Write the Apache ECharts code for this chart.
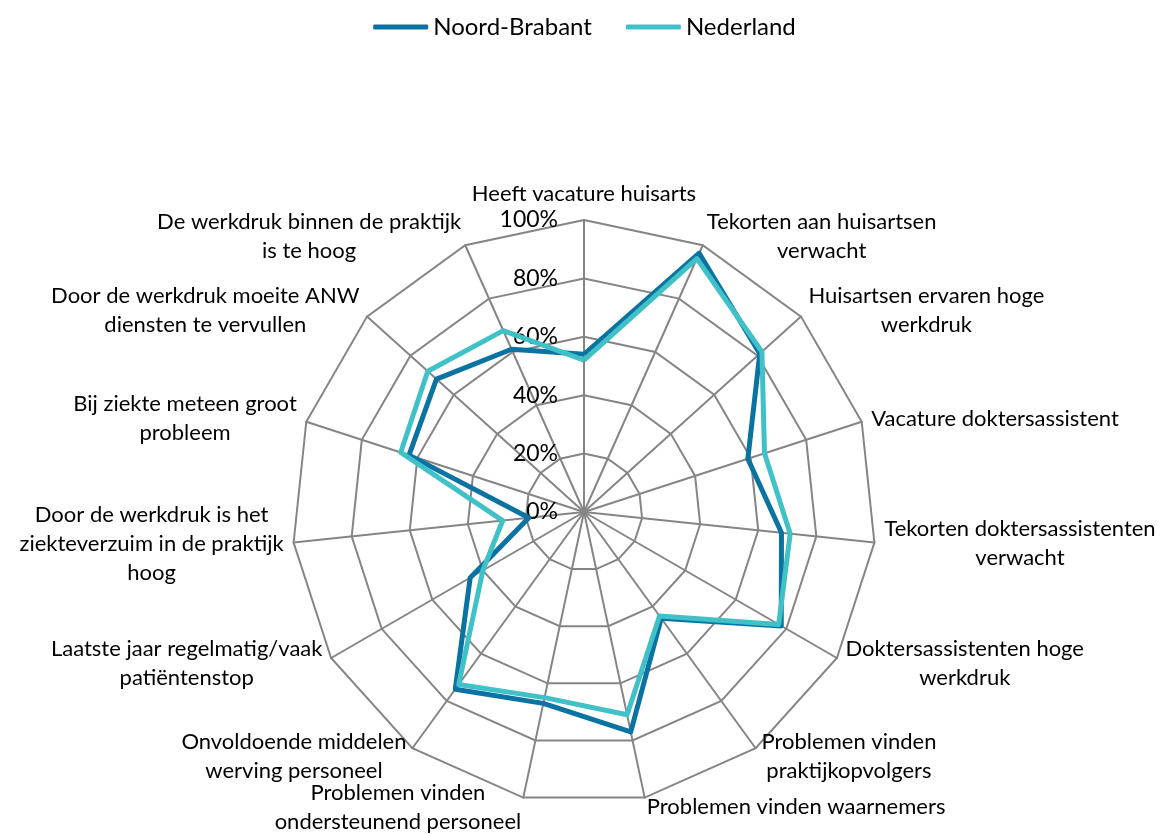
<!DOCTYPE html>
<html>
<head>
<meta charset="utf-8">
<script src="https://cdn.jsdelivr.net/npm/echarts@6/dist/echarts.min.js"></script>
<style>
  html, body { margin: 0; padding: 0; background: #fff; }
  #chart { width: 1169px; height: 834px; }
</style>
</head>
<body>
<div id="chart"></div>
<script>
// indicators of the radar (clockwise from the top)
const categories = [
  'Heeft vacature huisarts',
  'Tekorten aan huisartsen\nverwacht',
  'Huisartsen ervaren hoge\nwerkdruk',
  'Vacature doktersassistent',
  'Tekorten doktersassistenten\nverwacht',
  'Doktersassistenten hoge\nwerkdruk',
  'Problemen vinden\npraktijkopvolgers',
  'Problemen vinden waarnemers',
  'Problemen vinden\nondersteunend personeel',
  'Onvoldoende middelen\nwerving personeel',
  'Laatste jaar regelmatig/vaak\npatiëntenstop',
  'Door de werkdruk is het\nziekteverzuim in de praktijk\nhoog',
  'Bij ziekte meteen groot\nprobleem',
  'Door de werkdruk moeite ANW\ndiensten te vervullen',
  'De werkdruk binnen de praktijk\nis te hoog'
]
// percentages
const noordBrabant = [54, 97, 81, 59, 68, 78, 45, 77, 67, 75, 45, 19, 63, 68, 61]
const nederland = [52, 95, 82, 65, 71, 77, 44, 71, 65, 73, 40, 28, 66, 72, 68]
const seriesNames = ['Noord-Brabant', 'Nederland']
const seriesColors = ['#0A73A2', '#40C1C8']
const tickMax = 100

const FONT = 'Lato'
const chart = echarts.init(document.getElementById('chart'))

// echarts lays the radar out counter-clockwise, so keep the first item on top and reverse the rest
const order = [0].concat(categories.map((c, i) => i).slice(1).reverse())
const pick = arr => order.map(i => arr[i])

const indicator = pick(categories).map((name, i) => {
  const item = { name: name, max: tickMax, min: 0 }
  if (i === 0) item.axisLabel = { show: true }//only the top axis gets tick labels
  return item
})

const option = {
  animation: false,
  legend: {
    top: 10,
    left: 'center',
    icon: 'roundRect',
    itemWidth: 55,
    itemHeight: 5,
    itemGap: 34,
    textStyle: { fontFamily: FONT, fontSize: 24, color: '#000' },
    data: seriesNames
  },
  radar: {
    center: [584, 512],
    radius: 292,
    startAngle: 90,
    splitNumber: 5,
    shape: 'polygon',
    indicator: indicator,
    axisNameGap: 10,
    axisName: {
      color: '#000',
      fontFamily: FONT,
      fontSize: 22,
      lineHeight: 29,
      formatter: name => name.split('\n').map(s => '{c|' + s + '}').join('\n'),
      rich: {
        c: { align: 'center', fontFamily: FONT, fontSize: 22, lineHeight: 29, color: '#000' }
      }
    },
    axisLine: { lineStyle: { color: '#858585', width: 2 } },
    splitLine: { lineStyle: { color: '#858585', width: 2 } },
    splitArea: { show: false },
    axisTick: { show: false },
    axisLabel: {
      show: false,
      formatter: v => v + '%',
      fontFamily: FONT,
      fontSize: 23,
      color: '#000',
      margin: 26
    }
  },
  series: [{
    type: 'radar',
    symbol: 'none',
    data: [
      { name: seriesNames[0], value: pick(noordBrabant), lineStyle: { width: 5, color: seriesColors[0] }, itemStyle: { color: seriesColors[0] } },
      { name: seriesNames[1], value: pick(nederland), lineStyle: { width: 5, color: seriesColors[1] }, itemStyle: { color: seriesColors[1] } }
    ]
  }]
}
chart.setOption(option)
</script>
</body>
</html>
